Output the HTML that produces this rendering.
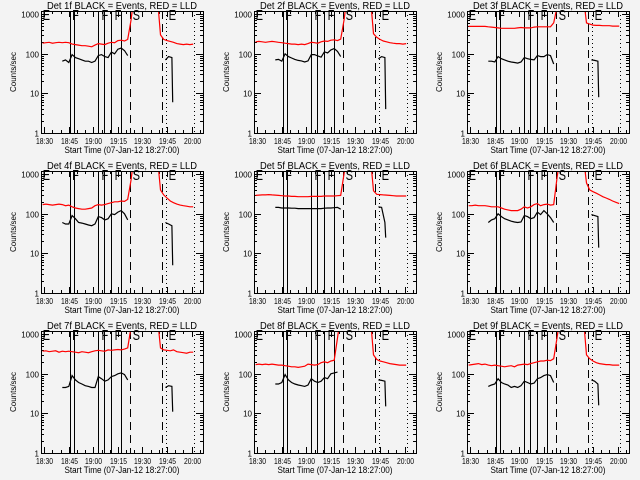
<!DOCTYPE html>
<html><head><meta charset="utf-8"><style>
html,body{margin:0;padding:0;background:#f3f3f3;}
svg{display:block;font-family:"Liberation Sans",sans-serif;}
</style></head><body>
<svg id="chart" width="640" height="480" viewBox="0 0 640 480">
<rect width="640" height="480" fill="#f3f3f3"/>
</svg>
<script>
const panelNames = ["1f","2f","3f","4f","5f","6f","7f","8f","9f"];
const xTickLabels = ["18:30","18:45","19:00","19:15","19:30","19:45","20:00"];
const xTickMinutes = [3,18,33,48,63,78,93];
const yTickValues = [1,10,100,1000];
const yTickLabels = ["1","10","100","1000"];
const solidLineTimes = [18.7,21.2,35.8,39.5,43.8,49.9];
const dashedLineTimes = [55.4,75];
const dottedLineTimes = [77.4,94.5];
const markerLetters = ["E","F","F","F","S","E"];
const markerTimes = [2,20,38,46,57,79];
const redT = [2,4,6,8,10,12,14,16,18,20,22,24,26,28,30,32,34,36,38,40,42,44,46,48,50,52,54,56,58,60,62,64,66,68,70,72,74,76,78,80,82,84,86,88,90,92,94];
const blackT = [14,16,18,20,22,24,26,28,30,32,34,36,38,40,42,44,46,48,50,52,54,77,79,81,81.5];
const H=3000;
const red1 = [185,190,195,185,190,195,190,195,190,175,170,165,160,160,155,150,165,180,175,170,185,195,190,215,220,210,230,700,H,H,H,H,H,H,H,H,300,230,215,205,195,180,175,170,175,170,175];
const red2 = [200,205,200,195,200,205,200,195,190,185,180,175,175,170,175,170,180,195,190,185,200,210,205,220,225,215,235,700,H,H,H,H,H,H,H,H,320,260,230,210,200,190,185,180,180,175,180];
const red3 = [490,490,490,490,490,490,480,470,460,450,440,440,440,440,440,450,460,450,450,450,470,480,480,480,480,480,600,1500,H,H,H,H,H,H,H,H,600,560,530,520,520,510,510,510,500,500,500];
const red4 = [170,175,170,165,170,175,170,160,165,150,140,135,130,130,135,140,160,170,165,170,180,190,200,200,210,205,230,700,H,H,H,H,H,H,H,H,400,300,250,210,190,175,165,160,155,150,150];
const red5 = [290,295,300,300,305,300,295,290,285,280,280,275,275,270,270,270,270,275,275,275,275,280,280,280,280,285,290,1000,H,H,H,H,H,H,H,H,380,310,305,300,295,290,285,280,280,280,280];
const red6 = [160,160,165,160,160,160,155,150,150,150,140,130,125,120,120,120,130,150,140,150,170,180,160,170,175,165,170,800,H,H,H,H,H,H,H,H,600,400,360,330,300,270,250,230,210,195,180];
const red7 = [370,380,360,370,380,350,370,360,370,360,350,340,360,350,340,360,380,390,380,370,400,390,400,410,400,420,450,1500,H,H,H,H,H,H,H,H,450,400,390,380,400,360,350,340,330,350,350];
const red8 = [170,175,170,175,170,175,170,165,165,160,155,150,150,145,150,155,175,170,165,170,190,200,190,210,220,800,H,H,H,H,H,H,H,H,H,H,300,230,210,200,190,180,175,170,165,165,165];
const red9 = [165,170,175,180,170,175,165,160,165,160,155,150,155,160,150,165,170,175,170,180,190,200,210,210,220,215,240,800,H,H,H,H,H,H,H,H,300,240,210,190,180,175,170,170,165,165,165];
const black1 = [65,70,60,95,80,75,70,65,65,60,65,90,95,85,80,110,100,130,140,120,90,70,85,80,6];
const black2 = [70,72,65,100,85,78,72,68,66,62,66,95,95,88,82,112,105,125,135,115,85,75,85,80,4];
const black3 = [65,65,62,85,75,70,65,62,60,58,62,80,75,72,70,90,85,85,95,90,55,70,68,65,8];
const black4 = [60,55,55,90,75,60,58,55,52,50,55,85,80,70,75,100,95,110,120,100,70,60,55,50,5];
const black5 = [145,145,140,140,140,138,138,135,135,135,135,135,135,135,135,138,140,140,142,145,130,150,145,60,25];
const black6 = [60,70,75,100,85,75,70,65,62,60,62,90,85,75,80,110,95,120,100,80,60,95,90,85,14];
const black7 = [45,45,48,90,70,60,55,50,48,45,45,85,75,65,70,85,90,100,105,95,70,45,50,48,11];
const black8 = [55,55,60,95,70,60,55,52,50,48,52,75,65,60,65,80,75,100,105,110,null,70,68,65,15];
const black9 = [48,52,55,75,60,55,52,45,48,45,50,65,60,55,58,75,80,90,95,90,60,70,65,55,16];
const redSeries = [red1,red2,red3,red4,red5,red6,red7,red8,red9];
const blackSeries = [black1,black2,black3,black4,black5,black6,black7,black8,black9];

const NS="http://www.w3.org/2000/svg";
const svg=document.getElementById('chart');
function mk(tag,attrs,parent){const e=document.createElementNS(NS,tag);for(const k in attrs)e.setAttribute(k,attrs[k]);parent.appendChild(e);return e;}
const T0=1,T1=100,YMAX=1200;
const BW=162,BT=11,BB=133;
const snap=v=>Math.round(v)+0.5;

for(let p=0;p<9;p++){
  const ox=(p%3)*213, oy=Math.floor(p/3)*160;
  const L=ox+41, R=L+BW, TOP=oy+BT, BOT=oy+BB;
  const xs=t=>L+(t-T0)/(T1-T0)*BW;
  const ys=v=>BOT-Math.log10(v)/Math.log10(YMAX)*(BOT-TOP);
  const g=mk('g',{},svg);
  
  
  const cp=mk('clipPath',{id:'clip'+p},g);
  mk('rect',{x:L,y:TOP,width:BW,height:BOT-TOP},cp);
  const title=mk('text',{x:L+BW/2,y:oy+9,'font-size':'10','text-anchor':'middle',fill:'#000',textLength:'150',lengthAdjust:'spacingAndGlyphs'},g);
  title.textContent='Det '+panelNames[p]+' BLACK = Events, RED = LLD';
  
  
  const yl=mk('text',{x:0,y:0,'font-size':'8','text-anchor':'middle',transform:`translate(${ox+16},${oy+72}) rotate(-90)`},g);
  yl.textContent='Counts/sec';
  
  
  const xl=mk('text',{x:L+BW/2,y:oy+153,'font-size':'9','text-anchor':'middle',textLength:'115',lengthAdjust:'spacingAndGlyphs'},g);
  xl.textContent='Start Time (07-Jan-12 18:27:00)';
  
  
  for(let d=0;d<4;d++){
    const y=snap(ys(yTickValues[d]));
    mk('line',{x1:L,x2:L+7,y1:y,y2:y,stroke:'#000'},g);
    mk('line',{x1:R,x2:R-7,y1:y,y2:y,stroke:'#000'},g);
    const tl=mk('text',{x:L-2,y:y+3,'font-size':'8','text-anchor':'end'},g);
    tl.textContent=yTickLabels[d];
    
    
    if(d<3)for(let m=2;m<10;m++){const yy=snap(ys(yTickValues[d]*m));
      if(yy<TOP)continue;
      mk('line',{x1:L,x2:L+3,y1:yy,y2:yy,stroke:'#000'},g);
      mk('line',{x1:R,x2:R-3,y1:yy,y2:yy,stroke:'#000'},g);}
  }
  for(let i=0;i<xTickMinutes.length;i++){
    const x=snap(xs(xTickMinutes[i]));
    mk('line',{x1:x,x2:x,y1:BOT,y2:BOT-6,stroke:'#000'},g);
    mk('line',{x1:x,x2:x,y1:TOP,y2:TOP+6,stroke:'#000'},g);
    for(let m=1;m<3;m++){const xm=snap(xs(xTickMinutes[i]+m*5)); if(xm<R){
      mk('line',{x1:xm,x2:xm,y1:BOT,y2:BOT-3,stroke:'#000'},g);
      mk('line',{x1:xm,x2:xm,y1:TOP,y2:TOP+3,stroke:'#000'},g);}}
    const tl=mk('text',{x:x,y:oy+144,'font-size':'8','text-anchor':'middle',textLength:'17',lengthAdjust:'spacingAndGlyphs'},g);
    tl.textContent=xTickLabels[i];
    
    
  }
  solidLineTimes.forEach(t=>{const x=snap(xs(t));const l=mk('line',{x1:x,x2:x,y1:TOP,y2:BOT,stroke:'#000','stroke-width':1},g);
    });
  dashedLineTimes.forEach(t=>{const x=snap(xs(t));const l=mk('line',{x1:x,x2:x,y1:TOP,y2:BOT,stroke:'#000','stroke-width':1,'stroke-dasharray':'8,5'},g);
    });
  dottedLineTimes.forEach(t=>{const x=snap(xs(t));const l=mk('line',{x1:x,x2:x,y1:TOP,y2:BOT,stroke:'#000','stroke-width':1,'stroke-dasharray':'1,3'},g);
    });
  markerLetters.forEach((c,i)=>{const tx=mk('text',{x:0,y:0,'font-size':'13',fill:'#000',transform:`translate(${xs(markerTimes[i]).toFixed(1)},${TOP+9}) scale(0.85,1.15)`},g);
    tx.textContent=c;});
  const cg=mk('g',{'clip-path':`url(#clip${p})`},g);
  const redV=redSeries[p];
  let d='';redT.forEach((t,i)=>{if(redV[i]!=null)d+=(d?'L':'M')+xs(t).toFixed(1)+','+ys(redV[i]).toFixed(1);});
  const rp=mk('path',{d:d,fill:'none',stroke:'#ff0000','stroke-width':1.2},cg);
  
  
  const bV=blackSeries[p];
  let bd='',prev=null;
  blackT.forEach((t,i)=>{const v=bV[i];if(v==null){prev=null;return;}
    const brk=(prev==null||t-prev>10);bd+=(brk?'M':'L')+xs(t).toFixed(1)+','+ys(v).toFixed(1);prev=t;});
  const bp=mk('path',{d:bd,fill:'none',stroke:'#000','stroke-width':1.2},cg);
  
  
  const box=mk('rect',{x:L+0.5,y:TOP+0.5,width:BW,height:BOT-TOP,fill:'none',stroke:'#000','stroke-width':1},g);
  
  
}
</script>
</body></html>
